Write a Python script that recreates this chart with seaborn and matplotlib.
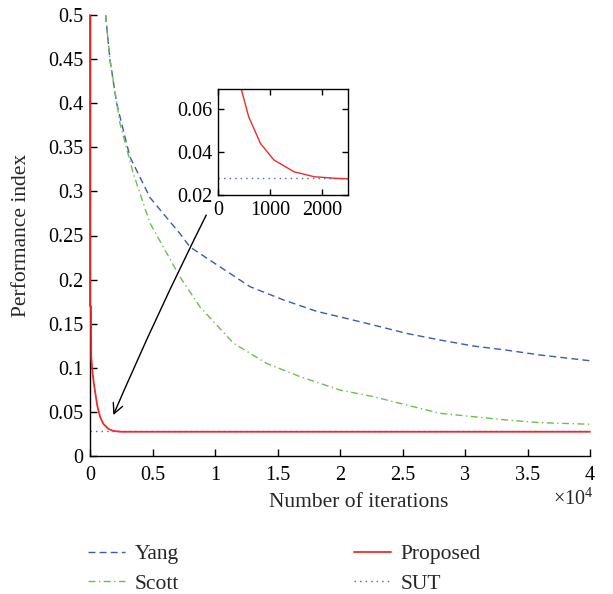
import numpy as np
import pandas as pd
import matplotlib
matplotlib.use("Agg")
import matplotlib.pyplot as plt
from matplotlib.ticker import FuncFormatter
import seaborn as sns

# ---------------- data ----------------
yang_x = [1250, 1600, 2130, 3200, 4800, 7200, 8000, 10130, 12800, 15470, 18130,
          20800, 22670, 25330, 28000, 30670, 33330, 36000, 40000]
yang_y = [0.5, 0.449, 0.40, 0.339, 0.293, 0.252, 0.237, 0.217, 0.192, 0.177, 0.164,
          0.155, 0.1485, 0.139, 0.1315, 0.1247, 0.120, 0.1145, 0.108]

scott_x = [1250, 1600, 2400, 3470, 4800, 7200, 8800, 11470, 14130, 16800, 20000,
           22670, 25330, 28000, 30670, 33330, 36000, 40000]
scott_y = [0.5, 0.449, 0.377, 0.32, 0.264, 0.203, 0.169, 0.128, 0.105, 0.09, 0.0748,
           0.0673, 0.0578, 0.0484, 0.0446, 0.0408, 0.0378, 0.036]

prop_x = [0, 1, 80, 100, 200, 300, 450, 590, 816, 1074, 1463, 1851, 2239, 2500, 40000]
prop_y = [0.5, 0.17, 0.17, 0.112, 0.095, 0.083, 0.069, 0.0564, 0.044, 0.0363,
          0.0308, 0.0285, 0.0278, 0.0275, 0.0275]

sut_x = [0, 40000]
sut_y = [0.028, 0.028]

main_yticks = [0, 0.05, 0.1, 0.15, 0.2, 0.25, 0.3, 0.35, 0.4, 0.45, 0.5]
main_xticks = [0, 5000, 10000, 15000, 20000, 25000, 30000, 35000, 40000]
inset_yticks = [0.02, 0.04, 0.06]
inset_xticks = [0, 1000, 2000]

# ---------------- style ----------------
sns.set_style("ticks")
plt.rcParams['font.family'] = ['Liberation Serif', 'DejaVu Serif']
plt.rcParams['mathtext.fontset'] = 'custom'
plt.rcParams['mathtext.rm'] = 'Liberation Serif'
FT = 14.5   # tick labels
FL = 15.5   # axis labels / legend

c_yang = '#3a5bb0'
c_scott = '#6cc04a'
c_prop = '#ee2b2b'
c_sut = '#4466bb'

fig = plt.figure(figsize=(6.13, 5.94), dpi=100)
ax = fig.add_axes([90/613, 1-456/594, 500/613, 441/594])

df_y = pd.DataFrame({'x': yang_x, 'y': yang_y})
df_s = pd.DataFrame({'x': scott_x, 'y': scott_y})
df_p = pd.DataFrame({'x': prop_x, 'y': prop_y})
df_u = pd.DataFrame({'x': sut_x, 'y': sut_y})

sns.lineplot(data=df_y, x='x', y='y', ax=ax, color=c_yang, lw=1.0,
             estimator=None, sort=False, label='Yang')
ax.lines[-1].set_dashes([5, 3])
sns.lineplot(data=df_s, x='x', y='y', ax=ax, color=c_scott, lw=1.0,
             estimator=None, sort=False, label='Scott')
ax.lines[-1].set_dashes([5, 2.5, 1, 2.5])
sns.lineplot(data=df_u, x='x', y='y', ax=ax, color=c_sut, lw=1.0,
             estimator=None, sort=False, label='SUT')
ax.lines[-1].set_dashes([1, 3])
sns.lineplot(data=df_p, x='x', y='y', ax=ax, color=c_prop, lw=1.3,
             estimator=None, sort=False, label='Proposed')
ax.lines[-1].set_zorder(3)
ax.lines[-1].set_clip_on(False)

ax.set_xlim(0, 40000)
ax.set_ylim(0, 0.5)
ax.set_xticks(main_xticks)
ax.set_yticks(main_yticks)
ax.xaxis.set_major_formatter(FuncFormatter(lambda v, p: f"{v/1e4:g}"))
ax.yaxis.set_major_formatter(FuncFormatter(lambda v, p: f"{v:g}"))
ax.tick_params(direction='in', length=5, width=1, labelsize=FT, colors='black')
ax.tick_params(axis='x', pad=7.5)
ax.tick_params(axis='y', pad=5)
sns.despine(ax=ax)
for s in ['left', 'bottom']:
    ax.spines[s].set_linewidth(1.0)
    ax.spines[s].set_color('black')
ax.set_xlabel('Number of iterations', fontsize=FL, va='top')
ax.set_ylabel('Performance index', fontsize=FL)
ax.xaxis.set_label_coords(0.538, -0.085)
ax.yaxis.set_label_coords(-0.118, 0.5)
ax.get_legend().remove()

fig.text(594/613, 1-505/594, r'$\times10^{4}$', ha='right', va='baseline', fontsize=FT)

# arrow
ax.annotate('', xy=(1780, 0.0435), xytext=(9400, 0.276),
            arrowprops=dict(arrowstyle='->', color='black', lw=1.0,
                            mutation_scale=18, connectionstyle='arc3,rad=0.015'))

# legends
h = {l.get_label(): l for l in ax.lines}
common = dict(loc='center left', frameon=False, fontsize=FL, handlelength=1.7,
              handletextpad=0.48, labelspacing=0.42, borderpad=0, borderaxespad=0)
fig.legend([h['Yang'], h['Scott']], ['Yang', 'Scott'],
           bbox_to_anchor=(88/613, 1-569/594), **common)
fig.legend([h['Proposed'], h['SUT']], ['Proposed', 'SUT'],
           bbox_to_anchor=(354/613, 1-569/594), **common)

# inset
axi = fig.add_axes([218/613, 1-195/594, 130/613, 106/594])
sns.lineplot(data=df_u, x='x', y='y', ax=axi, color=c_sut, lw=1.0,
             estimator=None, sort=False, legend=False)
axi.lines[-1].set_dashes([1, 3])
sns.lineplot(data=df_p, x='x', y='y', ax=axi, color=c_prop, lw=1.0,
             estimator=None, sort=False, legend=False)
axi.set_xlim(0, 2500)
axi.set_ylim(0.02, 0.0693)
axi.set_xticks(inset_xticks)
axi.set_yticks(inset_yticks)
axi.yaxis.set_major_formatter(FuncFormatter(lambda v, p: f"{v:.2f}"))
axi.tick_params(direction='in', length=4, width=1, labelsize=FT, top=True, right=True,
                colors='black', pad=4)
axi.set_xlabel('')
axi.set_ylabel('')
for s in axi.spines.values():
    s.set_visible(True)
    s.set_linewidth(1.0)
    s.set_color('black')

fig.savefig('out.png', dpi=100)
